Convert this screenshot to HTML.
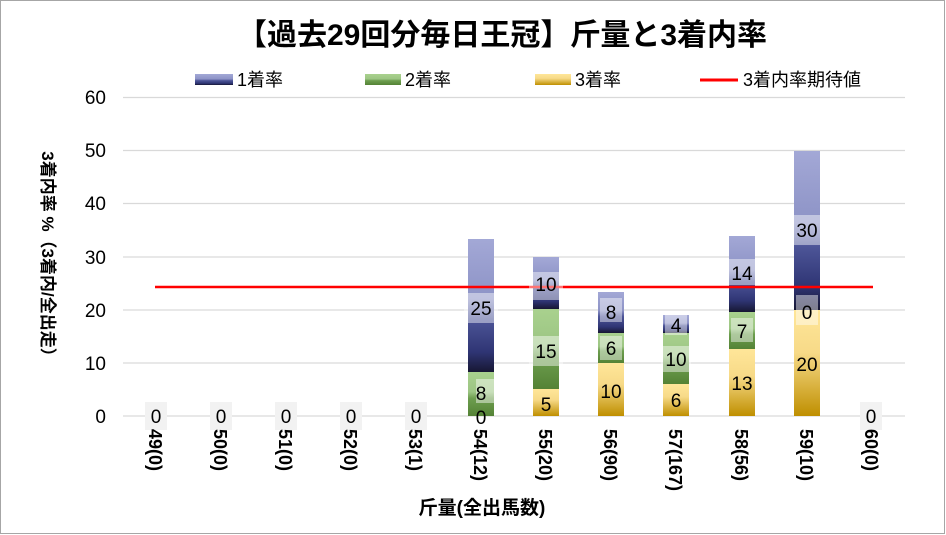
<!DOCTYPE html>
<html><head><meta charset="utf-8"><style>
body{margin:0;background:#fff}
svg{display:block;font-family:"Liberation Sans","Noto Sans CJK JP",sans-serif}
</style></head><body>
<svg width="946" height="535" viewBox="0 0 946 535" xmlns="http://www.w3.org/2000/svg">
<defs>
<linearGradient id="gb" x1="0" y1="0" x2="0" y2="1"><stop offset="0" stop-color="#a3a8d6"/><stop offset="0.45" stop-color="#8d93c6"/><stop offset="0.6" stop-color="#4d5598"/><stop offset="0.85" stop-color="#2f3574"/><stop offset="1" stop-color="#171733"/></linearGradient>
<linearGradient id="gg" x1="0" y1="0" x2="0" y2="1"><stop offset="0" stop-color="#a9d18e"/><stop offset="0.45" stop-color="#9cc583"/><stop offset="0.6" stop-color="#6d9e4f"/><stop offset="1" stop-color="#548235"/></linearGradient>
<linearGradient id="gy" x1="0" y1="0" x2="0" y2="1"><stop offset="0" stop-color="#ffe699"/><stop offset="0.4" stop-color="#f7da88"/><stop offset="1" stop-color="#bf8f00"/></linearGradient>
</defs>
<rect x="0.5" y="0.5" width="944" height="533" fill="#fff" stroke="#a6a6a6"/>
<text x="502" y="45" text-anchor="middle" font-size="30" font-weight="bold" fill="#000">【過去29回分毎日王冠】斤量と3着内率</text>
<!-- legend -->
<rect x="195" y="74" width="38" height="11" fill="url(#gb)"/><text x="237" y="86" font-size="18">1着率</text>
<rect x="365" y="74" width="36" height="11" fill="url(#gg)"/><text x="405" y="86" font-size="18">2着率</text>
<rect x="535" y="74" width="36" height="11" fill="url(#gy)"/><text x="575" y="86" font-size="18">3着率</text>
<line x1="700" y1="80" x2="738" y2="80" stroke="#f00" stroke-width="3"/><text x="743" y="86" font-size="18">3着内率期待値</text>
<!-- grid -->
<g stroke="#d9d9d9" stroke-width="1.3">
<line x1="123" y1="97.5" x2="905" y2="97.5"/><line x1="123" y1="150.5" x2="905" y2="150.5"/><line x1="123" y1="203.5" x2="905" y2="203.5"/><line x1="123" y1="257" x2="905" y2="257"/><line x1="123" y1="310" x2="905" y2="310"/><line x1="123" y1="363" x2="905" y2="363"/><line x1="123" y1="416" x2="905" y2="416"/>
</g>
<g font-size="19" text-anchor="end" fill="#000">
<text x="106" y="104">60</text><text x="106" y="157">50</text><text x="106" y="210">40</text><text x="106" y="264">30</text><text x="106" y="317">20</text><text x="106" y="370">10</text><text x="106" y="423">0</text>
</g>
<text transform="translate(42,258) rotate(90)" text-anchor="middle" font-size="17" font-weight="bold">3着内率 %（3着内/全出走）</text>
<!-- bars -->
<rect x="468" y="372" width="26" height="44" fill="url(#gg)"/>
<rect x="468" y="239" width="26" height="133" fill="url(#gb)"/>
<rect x="533" y="389" width="26" height="27" fill="url(#gy)"/>
<rect x="533" y="309" width="26" height="80" fill="url(#gg)"/>
<rect x="533" y="257" width="26" height="52" fill="url(#gb)"/>
<rect x="598" y="363" width="26" height="53" fill="url(#gy)"/>
<rect x="598" y="333" width="26" height="30" fill="url(#gg)"/>
<rect x="598" y="292" width="26" height="41" fill="url(#gb)"/>
<rect x="663" y="384" width="26" height="32" fill="url(#gy)"/>
<rect x="663" y="333" width="26" height="51" fill="url(#gg)"/>
<rect x="663" y="315" width="26" height="18" fill="url(#gb)"/>
<rect x="729" y="349" width="26" height="67" fill="url(#gy)"/>
<rect x="729" y="312" width="26" height="37" fill="url(#gg)"/>
<rect x="729" y="236" width="26" height="76" fill="url(#gb)"/>
<rect x="794" y="310" width="26" height="106" fill="url(#gy)"/>
<rect x="794" y="151" width="26" height="159" fill="url(#gb)"/>
<line x1="155" y1="287" x2="873" y2="287" stroke="#f00" stroke-width="2.5"/>
<!-- data labels -->
<g fill="#fff" fill-opacity="0.45">
<rect x="464" y="293" width="34" height="30"/><rect x="476" y="379" width="22" height="24"/>
<rect x="529" y="272" width="34" height="28"/><rect x="529" y="336" width="34" height="30"/>
<rect x="600" y="298" width="22" height="24"/><rect x="600" y="336" width="22" height="24"/>
<rect x="665" y="315" width="22" height="20"/><rect x="661" y="346" width="30" height="26"/>
<rect x="725" y="259" width="34" height="26"/><rect x="731" y="318" width="22" height="24"/>
<rect x="790" y="215" width="34" height="30"/><rect x="796" y="295" width="22" height="30"/>
</g>
<g fill="#f2f2f2">
<rect x="145" y="402" width="22" height="28"/><rect x="210" y="402" width="22" height="28"/><rect x="275" y="402" width="22" height="28"/><rect x="340" y="402" width="22" height="28"/><rect x="405" y="402" width="22" height="28"/><rect x="860" y="402" width="22" height="28"/>
</g>
<g font-size="19" text-anchor="middle" fill="#000">
<text x="156" y="423">0</text><text x="221" y="423">0</text><text x="286" y="423">0</text><text x="351" y="423">0</text><text x="416" y="423">0</text><text x="871" y="423">0</text>
<text x="481" y="424">0</text><text x="481" y="400">8</text><text x="481" y="315">25</text>
<text x="546" y="411">5</text><text x="546" y="358">15</text><text x="546" y="291">10</text>
<text x="611" y="398">10</text><text x="611" y="355">6</text><text x="611" y="319">8</text>
<text x="676" y="407">6</text><text x="676" y="366">10</text><text x="676" y="332">4</text>
<text x="742" y="390">13</text><text x="742" y="338">7</text><text x="742" y="280">14</text>
<text x="807" y="371">20</text><text x="807" y="319">0</text><text x="807" y="237">30</text>
</g>
<!-- x labels -->
<g font-size="18" font-weight="bold" fill="#000">
<text transform="translate(149,429) rotate(90)">49(0)</text>
<text transform="translate(214,429) rotate(90)">50(0)</text>
<text transform="translate(279,429) rotate(90)">51(0)</text>
<text transform="translate(344,429) rotate(90)">52(0)</text>
<text transform="translate(409,429) rotate(90)">53(1)</text>
<text transform="translate(474,429) rotate(90)">54(12)</text>
<text transform="translate(539,429) rotate(90)">55(20)</text>
<text transform="translate(604,429) rotate(90)">56(90)</text>
<text transform="translate(669,429) rotate(90)">57(167)</text>
<text transform="translate(735,429) rotate(90)">58(56)</text>
<text transform="translate(800,429) rotate(90)">59(10)</text>
<text transform="translate(865,429) rotate(90)">60(0)</text>
</g>
<text x="482" y="514" text-anchor="middle" font-size="19" font-weight="bold">斤量(全出馬数)</text>
</svg>
</body></html>
